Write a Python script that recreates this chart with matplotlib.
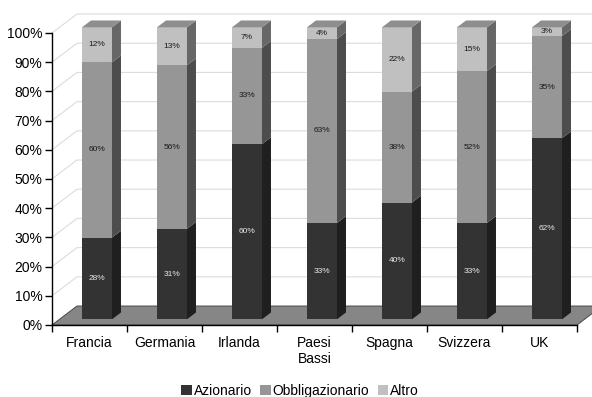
import matplotlib
matplotlib.use("Agg")
import matplotlib.pyplot as plt
from matplotlib.patches import Polygon, Rectangle

plt.rcParams['font.family'] = ['Liberation Sans', 'DejaVu Sans']

paesi = ["Francia", "Germania", "Irlanda", "Paesi\nBassi", "Spagna", "Svizzera", "UK"]
azionario = [28, 31, 60, 33, 40, 33, 62]
obbligazionario = [60, 56, 33, 63, 38, 52, 35]
altro = [12, 13, 7, 4, 22, 15, 3]
serie = ["Azionario", "Obbligazionario", "Altro"]

# front / side colours per series, plus the top cap
front = ["#333333", "#969696", "#c0c0c0"]
side = ["#1f1f1f", "#4d4d4d", "#676767"]
top_col = "#8e8e8e"
label_col = ["#e8e8e8", "#1a1a1a", "#1a1a1a"]

# oblique projection: full depth of the floor in data units
ddx, ddy = 0.333, 6.5
bar_w = 0.4
d_front, d_bar = 0.30, 0.36   # bar front position and bar depth (fractions of floor depth)

fig = plt.figure(figsize=(5.92, 3.97), dpi=100)
ax = fig.add_axes([52 / 592, 72 / 397, 525 / 592, 292 / 397])
ax.set_xlim(-0.5, len(paesi) - 0.5)
ax.set_ylim(0, 100)
ax.patch.set_visible(False)

# back and left wall gridlines
for y in range(10, 101, 10):
    ax.plot([-0.5, -0.5 + ddx, len(paesi) - 0.5 + ddx], [y, y + ddy, y + ddy],
            color="#dcdcdc", lw=0.8, clip_on=False, zorder=1)

# floor
floor = Polygon([(-0.5, 0), (len(paesi) - 0.5, 0),
                 (len(paesi) - 0.5 + ddx, ddy), (-0.5 + ddx, ddy)],
                closed=True, fc="#868686", ec="#4a4a4a", lw=0.7,
                clip_on=False, zorder=2)
ax.add_patch(floor)

ox, oy = d_front * ddx, d_front * ddy
sx, sy = d_bar * ddx, d_bar * ddy

for i in range(len(paesi)):
    vals = [azionario[i], obbligazionario[i], altro[i]]
    base = 0
    x0 = i - bar_w / 2 + ox
    x1 = i + bar_w / 2 + ox
    for k, v in enumerate(vals):
        b, t = base + oy, base + v + oy
        ax.add_patch(Rectangle((x0, b), bar_w, v, fc=front[k], ec="none",
                               clip_on=False, zorder=3))
        ax.add_patch(Polygon([(x1, b), (x1 + sx, b + sy), (x1 + sx, t + sy), (x1, t)],
                             closed=True, fc=side[k], ec="none", clip_on=False, zorder=3))
        ax.text(i + ox, (b + t) / 2, f"{v}%", ha="center", va="center",
                fontsize=6, color=label_col[k], zorder=5, clip_on=False)
        base += v
    t = base + oy
    ax.add_patch(Polygon([(x0, t), (x1, t), (x1 + sx, t + sy), (x0 + sx, t + sy)],
                         closed=True, fc=top_col, ec="none", clip_on=False, zorder=3))

# axes
for s in ["top", "right"]:
    ax.spines[s].set_visible(False)
for s in ["left", "bottom"]:
    ax.spines[s].set_color("black")
    ax.spines[s].set_linewidth(1.0)
    ax.spines[s].set_zorder(6)

ax.set_yticks(range(0, 101, 10))
ax.set_yticklabels([f"{y}%" for y in range(0, 101, 10)], fontsize=10)
ax.tick_params(axis="y", direction="out", length=5, width=1, pad=2)

ax.set_xticks([i - 0.5 for i in range(len(paesi) + 1)])
ax.set_xticklabels([])
ax.tick_params(axis="x", which="major", direction="out", length=5, width=1)
ax.set_xticks(range(len(paesi)), minor=True)
ax.set_xticklabels(paesi, minor=True, fontsize=10, linespacing=1.15)
ax.tick_params(axis="x", which="minor", length=0, pad=8)
for lab in ax.get_xticklabels(minor=True):
    lab.set_verticalalignment("top")

handles = [Rectangle((0, 0), 1, 1, fc=c, ec="none") for c in front]
fig.legend(handles, serie, loc="center", bbox_to_anchor=(300 / 592, 1 - 391 / 397),
           ncol=3, frameon=False, fontsize=10, handlelength=0.75, handleheight=0.75,
           handletextpad=0.15, columnspacing=0.6)

fig.savefig("out.png", dpi=100)
